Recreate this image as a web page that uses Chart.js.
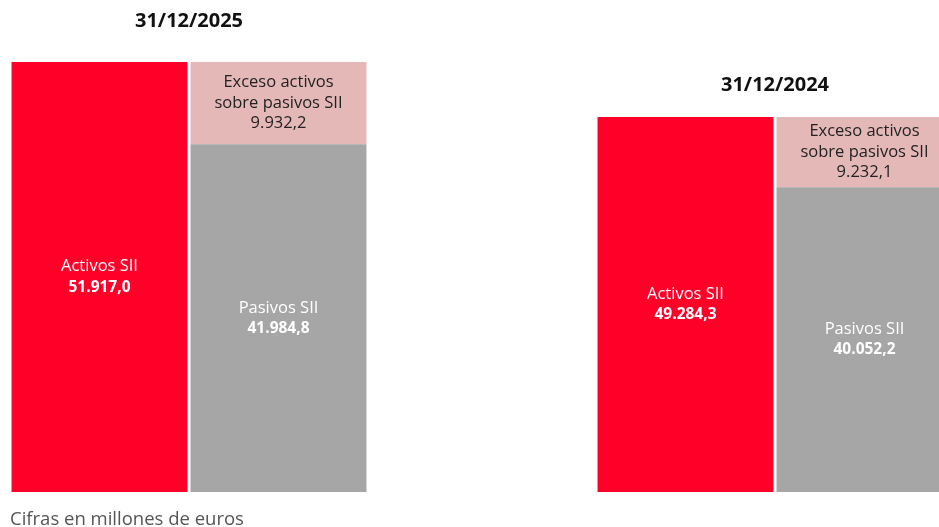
<!DOCTYPE html>
<html>
<head>
<meta charset="utf-8">
<script src="https://cdn.jsdelivr.net/npm/chart.js@4/dist/chart.umd.min.js"></script>
<style>
  html, body { margin: 0; padding: 0; background: #fff; overflow: hidden; }
  body { width: 939px; height: 527px; position: relative; font-family: "Open Sans", sans-serif; }
  .wrap { position: absolute; top: 0; width: 380px; height: 527px; }
  #nota { position: absolute; left: 10px; top: 505px; font-size: 18.5px; line-height: 26px; color: #555; }
</style>
</head>
<body>
<div class="wrap" style="left:0"><canvas id="c2025"></canvas></div>
<div class="wrap" style="left:586px"><canvas id="c2024"></canvas></div>
<div id="nota">Cifras en millones de euros</div>
<script>
// --- DONNÉES ---
const categorias = ['Activos SII', 'Pasivos SII'];
const fechas = ['31/12/2025', '31/12/2024'];
const activos = [51917.0, 49284.3];
const pasivos = [41984.8, 40052.2];
const exceso = [9932.2, 9232.1];

const ROJO = '#FF0029';
const GRIS = '#A6A6A6';
const ROSA = '#E5B8B8';

// format 51.917,0
function fmt(v) {
  const [ent, dec] = v.toFixed(1).split('.');
  return ent.replace(/\B(?=(\d{3})+(?!\d))/g, '.') + ',' + dec;
}

// texte dans les barres
const etiquetas = {
  id: 'etiquetas',
  afterDatasetsDraw(chart) {
    const ctx = chart.ctx;
    chart.data.datasets.forEach((ds, i) => {
      const meta = chart.getDatasetMeta(i);
      meta.data.forEach((bar, j) => {
        if (ds.data[j] == null) return;
        const lineas = ds.lineas(ds.data[j]);
        const cy = (bar.y + bar.base) / 2;
        const alto = 20.5;
        let y = cy - (lineas.length - 1) * alto / 2;
        ctx.save();
        ctx.textAlign = 'center';
        ctx.textBaseline = 'middle';
        ctx.fillStyle = ds.colorTexto;
        lineas.forEach(l => {
          ctx.font = l.bold ? 'bold 15.5px "Open Sans"' : '16.5px "Open Sans"';
          ctx.fillText(l.t, bar.x, y);
          y += alto;
        });
        ctx.restore();
      });
    });
  }
};

function crear(id, k, tituloTop, tituloBottom) {
  new Chart(document.getElementById(id), {
    type: 'bar',
    data: {
      labels: categorias,
      datasets: [
        { label: 'Activos SII', data: [activos[k], null], backgroundColor: ROJO, colorTexto: '#fff',
          lineas: v => [{ t: 'Activos SII' }, { t: fmt(v), bold: true }] },
        { label: 'Pasivos SII', data: [null, pasivos[k]], backgroundColor: GRIS, colorTexto: '#fff',
          lineas: v => [{ t: 'Pasivos SII' }, { t: fmt(v), bold: true }] },
        { label: 'Exceso', data: [null, exceso[k]], backgroundColor: ROSA, colorTexto: '#222',
          lineas: v => [{ t: 'Exceso activos' }, { t: 'sobre pasivos SII' }, { t: fmt(v) }] }
      ]
    },
    options: {
      responsive: true,
      maintainAspectRatio: false,
      animation: false,
      layout: { padding: { left: 10, right: 12, bottom: 35 } },
      datasets: { bar: { categoryPercentage: 1, barPercentage: 0.983 } },
      scales: {
        x: { stacked: true, display: false },
        y: { stacked: true, display: false, min: 0, max: activos[k] }
      },
      plugins: {
        legend: { display: false },
        tooltip: { enabled: false },
        title: {
          display: true, text: fechas[k], color: '#111',
          font: { family: 'Open Sans', size: 20, weight: 'bold' },
          padding: { top: tituloTop, bottom: tituloBottom }
        }
      }
    },
    plugins: [etiquetas]
  });
}

crear('c2025', 0, 9, 29);
crear('c2024', 1, 73, 20);
</script>
</body>
</html>
